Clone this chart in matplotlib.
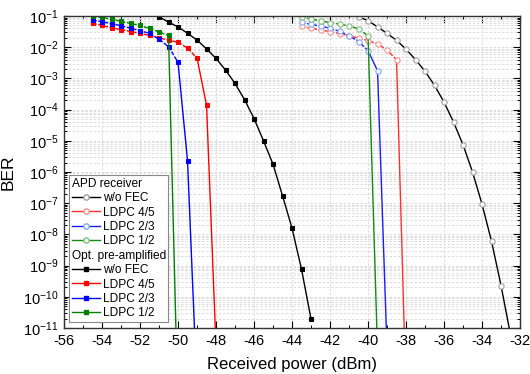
import numpy as np
import matplotlib.pyplot as plt
from matplotlib.lines import Line2D
from matplotlib.ticker import MultipleLocator, LogLocator, NullFormatter

plt.rcParams['font.family'] = ['Liberation Sans', 'DejaVu Sans']
plt.rcParams['mathtext.default'] = 'regular'
plt.rcParams['axes.unicode_minus'] = False

# optically pre-amplified receiver (filled squares)
opt_nofec_x = [-51.5, -51, -50.5, -50, -49.5, -49, -48.5, -48, -47.5, -47,
               -46.5, -46, -45.5, -45, -44.5, -44, -43.5, -43]
opt_nofec_ber = [0.125, 0.095, 0.064, 0.045, 0.028, 0.017, 0.0089, 4.4e-3, 1.86e-3,
                 6.9e-4, 2.1e-4, 5.2e-5, 1.0e-5, 1.78e-6, 1.74e-7, 1.58e-8, 7.6e-10, 1.95e-11]
opt_45_x = [-54.5, -54, -53.5, -53, -52.5, -52, -51.5, -51, -50.5, -50, -49.5, -49, -48.5, -48]
opt_45_ber = [0.058, 0.050, 0.042, 0.037, 0.032, 0.028, 0.024, 0.020, 0.017, 0.0144,
              0.0094, 0.0045, 1.4e-4, 2.5e-12]
opt_23_x = [-54.5, -54, -53.5, -53, -52.5, -52, -51.5, -51, -50.5, -50, -49.5, -49]
opt_23_ber = [0.074, 0.066, 0.057, 0.049, 0.041, 0.034, 0.028, 0.018, 0.0104, 3.3e-3, 2.3e-6, 1e-13]
opt_12_x = [-54.5, -54, -53.5, -53, -52.5, -52, -51.5, -51, -50.5, -50]
opt_12_ber = [0.098, 0.091, 0.080, 0.068, 0.058, 0.050, 0.040, 0.031, 0.024, 2e-14]

# APD receiver (open circles)
apd_nofec_x = [-40.5, -40, -39.5, -39, -38.5, -38, -37.5, -37, -36.5, -36,
               -35.5, -35, -34.5, -34, -33.5, -33, -32.5]
apd_nofec_ber = [0.095, 0.071, 0.045, 0.028, 0.0167, 0.0087, 0.0040, 1.7e-3, 6.0e-4,
                 1.74e-4, 4.0e-5, 7.5e-6, 1.0e-6, 9.3e-8, 6.0e-9, 2.3e-10, 6e-12]
apd_45_x = [-43.5, -43, -42.5, -42, -41.5, -41, -40.5, -40, -39.5, -39, -38.5, -38]
apd_45_ber = [0.047, 0.041, 0.036, 0.0318, 0.0275, 0.0233, 0.0198, 0.0164, 0.0129,
              0.0081, 0.0040, 8.5e-14]
apd_23_x = [-43.5, -43, -42.5, -42, -41.5, -41, -40.5, -40, -39.5, -39]
apd_23_ber = [0.064, 0.054, 0.048, 0.0405, 0.0323, 0.0237, 0.0153, 0.0078, 1.77e-3, 2e-12]
apd_12_x = [-43.5, -43, -42.5, -42, -41.5, -41, -40.5, -40, -39.5]
apd_12_ber = [0.095, 0.080, 0.070, 0.062, 0.055, 0.0485, 0.039, 0.0232, 1.8e-12]

fig = plt.figure(figsize=(5.3, 3.74), dpi=100)
ax = fig.add_axes([0.1208, 0.123, 0.8604, 0.834])


def draw(x, ber, color, mfc, mec, marker, ms, dashed=True):
    x = np.array(x)
    ber = np.array(ber)
    if dashed:
        # plateau above the decoder threshold is dashed, the drop is solid
        split = np.nonzero(ber > 3e-3)[0][-1]
        ax.plot(x[:split + 1], ber[:split + 1], color=color, lw=1.0, ls=(0, (3, 1.2)))
        ax.plot(x[split:], ber[split:], color=color, lw=1.0)
    else:
        ax.plot(x, ber, color=color, lw=1.0)
    ax.plot(x, ber, ls='none', marker=marker, ms=ms, mfc=mfc, mec=mec, mew=0.8)


draw(opt_nofec_x, opt_nofec_ber, 'black', 'black', 'black', 's', 3.2, dashed=False)
draw(opt_45_x, opt_45_ber, '#ff0000', '#ff0000', '#ff0000', 's', 3.2)
draw(opt_23_x, opt_23_ber, '#0000ff', '#0000ff', '#0000ff', 's', 3.2)
draw(opt_12_x, opt_12_ber, '#008000', '#008000', '#008000', 's', 3.2)
draw(apd_nofec_x, apd_nofec_ber, 'black', 'white', '#a0a0a0', 'o', 3.8, dashed=False)
draw(apd_45_x, apd_45_ber, '#ff3030', 'white', '#ff9090', 'o', 3.8)
draw(apd_23_x, apd_23_ber, '#1a1aff', 'white', '#80a8ff', 'o', 3.8)
draw(apd_12_x, apd_12_ber, '#108a10', 'white', '#80c080', 'o', 3.8)

ax.set_yscale('log')
ax.set_xlim(-56, -32)
ax.set_ylim(1e-11, 1e-1)
ax.xaxis.set_major_locator(MultipleLocator(2))
ax.xaxis.set_minor_locator(MultipleLocator(1))
ax.yaxis.set_major_locator(LogLocator(base=10, numticks=20))
ax.yaxis.set_minor_locator(LogLocator(base=10, subs=np.arange(2, 10), numticks=20))
ax.yaxis.set_minor_formatter(NullFormatter())
ax.tick_params(which='both', direction='in', top=True, right=True, labelsize=10.5, pad=4)
ax.tick_params(which='major', length=5, width=0.8)
ax.tick_params(which='minor', length=2.5, width=0.7)
for s in ax.spines.values():
    s.set_linewidth(1.0)
    s.set_color('#333333')

ax.set_axisbelow(True)
ax.grid(which='major', color='#d8d8d8', ls=(0, (3, 2)), lw=0.6)
ax.grid(which='minor', axis='y', color='#d8d8d8', ls=(0, (3, 2)), lw=0.6)

ax.set_xlabel('Received power (dBm)', fontsize=12, labelpad=7)
ax.set_ylabel('BER', fontsize=12.5, labelpad=5)

headers = ['APD receiver', 'Opt. pre-amplified']
blank = Line2D([], [], ls='none')
handles = [
    blank,
    Line2D([], [], color='black', lw=1.0, marker='o', ms=3.8, mfc='white', mec='#a0a0a0'),
    Line2D([], [], color='#ff3030', lw=1.0, marker='o', ms=3.8, mfc='white', mec='#ff9090'),
    Line2D([], [], color='#1a1aff', lw=1.0, marker='o', ms=3.8, mfc='white', mec='#80a8ff'),
    Line2D([], [], color='#108a10', lw=1.0, marker='o', ms=3.8, mfc='white', mec='#80c080'),
    blank,
    Line2D([], [], color='black', lw=1.0, marker='s', ms=3.2),
    Line2D([], [], color='#ff0000', lw=1.0, marker='s', ms=3.2),
    Line2D([], [], color='#0000ff', lw=1.0, marker='s', ms=3.2),
    Line2D([], [], color='#008000', lw=1.0, marker='s', ms=3.2),
]
labels = [headers[0], 'w/o FEC', 'LDPC 4/5', 'LDPC 2/3', 'LDPC 1/2',
          headers[1], 'w/o FEC', 'LDPC 4/5', 'LDPC 2/3', 'LDPC 1/2']
leg = ax.legend(handles, labels, loc='lower left', bbox_to_anchor=(0.0116, 0.02),
                borderaxespad=0, fontsize=8.6, handlelength=2.4, handletextpad=0.25,
                labelspacing=0.2, borderpad=0.2, fancybox=False, framealpha=1,
                edgecolor='#888888')
leg.get_frame().set_linewidth(0.8)
# headers start at the left edge, where the line samples start
for col in leg._legend_handle_box.get_children():
    for row in col.get_children():
        da, ta = row.get_children()
        if ta.get_text() in headers:
            da.width = 0
            row.sep = 0

fig.savefig('out.png', dpi=100)
